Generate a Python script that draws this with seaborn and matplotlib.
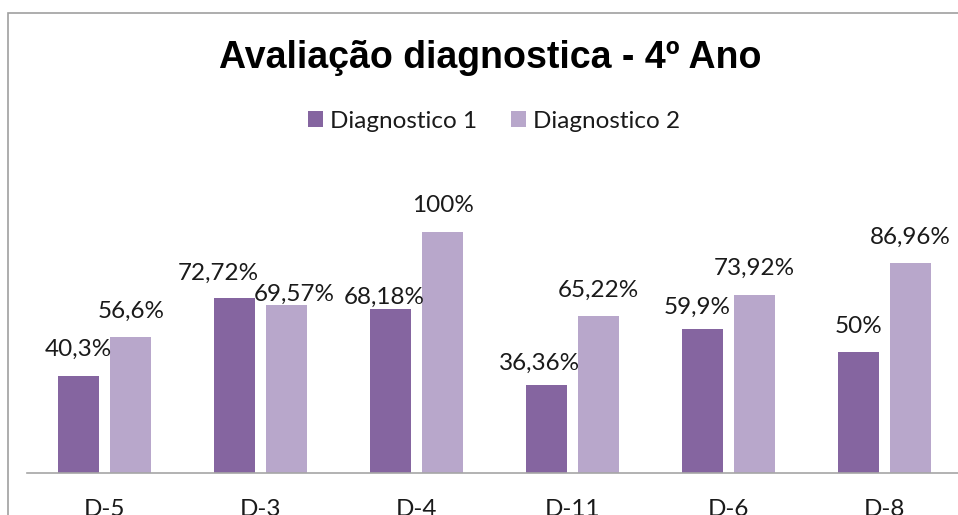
import matplotlib
matplotlib.use('Agg')
import matplotlib.pyplot as plt
import seaborn as sns
import pandas as pd
from matplotlib.patches import Patch, Rectangle

# Dados do gráfico
descritores = ['D-5', 'D-3', 'D-4', 'D-11', 'D-6', 'D-8']
diagnostico_1 = [40.3, 72.72, 68.18, 36.36, 59.9, 50.0]
diagnostico_2 = [56.6, 69.57, 100.0, 65.22, 73.92, 86.96]
series = ['Diagnostico 1', 'Diagnostico 2']
titulo = 'Avaliação diagnostica - 4º Ano'

cores = ['#8565A0', '#B8A7CB']

# Pequenos ajustes dos rótulos (em pixels), como no Excel
rotulo_dx = [[0, -16, -6, -7, -5.5, 0], [0, 8, 0, 0, 0, 0]]
rotulo_dy = [[20, 18, 4.5, 15.5, 14.5, 19.5], [19, 4, 19.5, 18.5, 19.5, 19.5]]

W, H = 958, 515
fs = 17.5

df = pd.DataFrame({
    'Descritor': descritores * 2,
    'Percentual': diagnostico_1 + diagnostico_2,
    'Avaliação': [series[0]] * len(descritores) + [series[1]] * len(descritores),
})

sns.set_theme(style='white')
plt.rcParams['font.family'] = ['Lato', 'DejaVu Sans']

fig = plt.figure(figsize=(W / 100, H / 100), dpi=100)
ax = fig.add_axes([26.5 / W, 42 / H, 936 / W, 323 / H])

sns.barplot(data=df, x='Descritor', y='Percentual', hue='Avaliação',
            palette=cores, width=0.673, gap=0.219, saturation=1,
            linewidth=0, legend=False, ax=ax)

ax.set_xlim(-0.5, 5.5)
ax.set_ylim(0, 134)
ax.set_xlabel('')
ax.set_ylabel('')
ax.set_yticks([])
for s in ['left', 'right', 'top']:
    ax.spines[s].set_visible(False)
ax.spines['bottom'].set_color('#A6A6A6')
ax.spines['bottom'].set_linewidth(1.2)
ax.tick_params(axis='x', length=0, pad=19, labelsize=fs, labelcolor='#1a1a1a')

# Rótulos de dados
for i, cont in enumerate(ax.containers):
    for j, bar in enumerate(cont):
        v = bar.get_height()
        txt = f'{v:g}'.replace('.', ',') + '%'
        ax.annotate(txt, (bar.get_x() + bar.get_width() / 2, v),
                    xytext=(rotulo_dx[i][j], rotulo_dy[i][j]),
                    textcoords='offset pixels', ha='center', va='baseline',
                    fontsize=fs, color='#1a1a1a')

# Título
fig.text(490 / W, 1 - 68 / H, titulo, ha='center', va='baseline',
         fontsize=27, fontweight='bold', family='Liberation Sans', color='black')

# Legenda
handles = [Patch(facecolor=c, edgecolor='none', label=s) for c, s in zip(cores, series)]
fig.legend(handles=handles, loc='center', bbox_to_anchor=(494 / W, 1 - 121 / H),
           ncol=2, frameon=False, fontsize=fs, handlelength=0.6, handleheight=0.6,
           handletextpad=0.3, columnspacing=1.4, labelcolor='#1a1a1a')

# Moldura do gráfico
fig.patches.append(Rectangle((8 / W, -0.1), 1.0, 1.1 - 13 / H, transform=fig.transFigure,
                             fill=False, edgecolor='#A0A0A0', linewidth=1.2))

fig.savefig('out.png', dpi=100)
